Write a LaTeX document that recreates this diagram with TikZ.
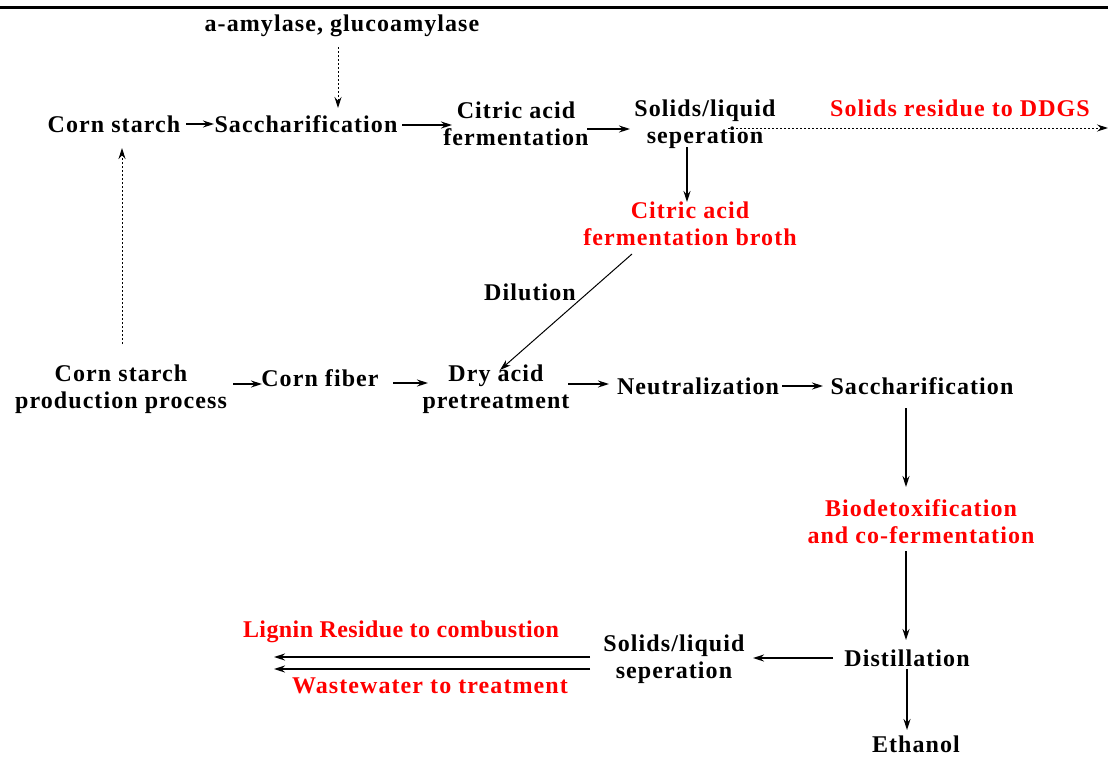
\documentclass[tikz,border=0pt]{standalone}
\usepackage{fontspec}
\setmainfont{Liberation Serif}[BoldFont={Liberation Serif Bold}, LetterSpace=4.5]
\newfontfamily\tightserif{Liberation Serif}[BoldFont={Liberation Serif Bold}, LetterSpace=1.7]
\usetikzlibrary{arrows.meta}
\definecolor{tred}{RGB}{255,0,0}
\begin{document}
\begin{tikzpicture}[x=1pt,y=-1pt,
  lbl/.style={font=\fontsize{24}{27}\selectfont\bfseries, align=center, inner sep=2pt},
  redlbl/.style={lbl, text=tred},
  arr/.style={-{Stealth[length=11pt,width=7pt]}, line width=1.4pt},
  thinarr/.style={-{Stealth[length=11pt,width=7pt]}, line width=1pt},
  dotarr/.style={-{Stealth[length=11pt,width=7pt]}, line width=1pt, dash pattern=on 2pt off 2pt}]
\useasboundingbox (0,0) rectangle (1108,756);
\draw[line width=2.2pt] (0,7.5) -- (1108,7.5);

\node[lbl] (enz) at (342,26) {a-amylase, glucoamylase};
\node[lbl] (cs) at (114,124) {Corn starch};
\node[lbl] (sac1) at (306,124) {Saccharification};
\node[lbl] (caf) at (516,124) {Citric acid\\fermentation};
\node[lbl] (slsep1) at (705,124) {Solids/liquid\\seperation};
\node[redlbl] (ddgs) at (960,108) {Solids residue to DDGS};
\node[redlbl] (broth) at (690,224) {Citric acid\\fermentation broth};
\node[lbl] (dil) at (530,292) {Dilution};
\node[lbl] (csp) at (121,389) {Corn starch\\production process};
\node[lbl] (fiber) at (320,378) {Corn fiber};
\node[lbl] (dap) at (496,389) {Dry acid\\pretreatment};
\node[lbl] (neut) at (698,386) {Neutralization};
\node[lbl] (sac2) at (922,386) {Saccharification};
\node[redlbl] (bio) at (921,522) {Biodetoxification\\and co-fermentation};
\node[lbl] (dist) at (907,658) {Distillation};
\node[lbl] (slsep2) at (674,659) {Solids/liquid\\seperation};
\node[redlbl] (lig) at (401,632) {\tightserif Lignin Residue to combustion};
\node[redlbl] (ww) at (430,686) {Wastewater to treatment};
\node[lbl] (eth) at (916,744) {Ethanol};
\coordinate (ddgsend) at (1108,128);
\coordinate (ligend) at (274,657);
\coordinate (wwend) at (274,669);

\draw[dotarr] ([xshift=-4pt,yshift=-21pt]enz.center) -- ([xshift=32pt,yshift=16pt]sac1.center);
\draw[arr] ([xshift=72pt]cs.center) -- ([xshift=-92pt]sac1.center);
\draw[arr] ([xshift=96pt,yshift=-1pt]sac1.center) -- ([xshift=-64pt,yshift=-1pt]caf.center);
\draw[arr] ([xshift=71pt,yshift=-5pt]caf.center) -- ([xshift=-75pt,yshift=-5pt]slsep1.center);
\draw[dotarr] ([xshift=23pt,yshift=-4pt]slsep1.center) -- (ddgsend);
\draw[arr] ([xshift=-18pt,yshift=-23pt]slsep1.center) -- ([xshift=-3pt,yshift=22pt]broth.center);
\draw[thinarr] ([xshift=-58pt,yshift=-30pt]broth.center) -- ([xshift=4pt,yshift=19pt]dap.center);
\draw[dotarr] ([xshift=1pt,yshift=45pt]csp.center) -- ([xshift=8pt,yshift=-24pt]cs.center);
\draw[arr] ([xshift=112pt,yshift=5pt]csp.center) -- ([xshift=-58pt,yshift=-6pt]fiber.center);
\draw[arr] ([xshift=73pt,yshift=-5pt]fiber.center) -- ([xshift=-68pt,yshift=6pt]dap.center);
\draw[arr] ([xshift=72pt,yshift=5pt]dap.center) -- ([xshift=-89pt,yshift=2pt]neut.center);
\draw[arr] ([xshift=84pt]neut.center) -- ([xshift=-99pt]sac2.center);
\draw[arr] ([xshift=-16pt,yshift=-22pt]sac2.center) -- ([xshift=-15pt,yshift=35pt]bio.center);
\draw[arr] ([xshift=-15pt,yshift=-29pt]bio.center) -- ([xshift=-1pt,yshift=18pt]dist.center);
\draw[arr] ([xshift=-74pt]dist.center) -- ([xshift=79pt,yshift=1pt]slsep2.center);
\draw[arr] ([xshift=-84pt,yshift=2pt]slsep2.center) -- (ligend);
\draw[arr] ([xshift=-84pt,yshift=-10pt]slsep2.center) -- (wwend);
\draw[arr] ([yshift=-11pt]dist.center) -- ([xshift=-9pt,yshift=14pt]eth.center);
\end{tikzpicture}
\end{document}
